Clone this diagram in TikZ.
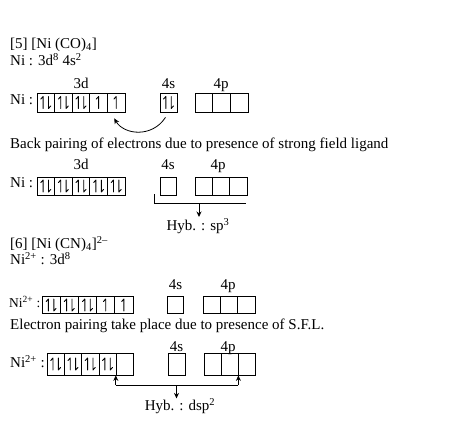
\documentclass[tikz,border=0pt]{standalone}
\usepackage{fontspec}
\setmainfont{Liberation Serif}
\usetikzlibrary{arrows.meta}
\begin{document}
\begin{tikzpicture}[x=1pt,y=-1pt,
  txt/.style={anchor=mid west,inner sep=0pt,font=\fontsize{15}{17}\selectfont},
  lbl/.style={anchor=mid,inner sep=0pt,font=\fontsize{15}{17}\selectfont},
  orb/.style 2 args={draw,line width=0.8pt,inner sep=0pt,minimum width=#1pt,minimum height=#2pt},
  elec/.style={line width=0.9pt,line cap=round,line join=round},
  upharp/.pic={\draw[elec] (0,6)--(0,-6)--(-2.3,-3.4);},
  dnharp/.pic={\draw[elec] (0,-6)--(0,6)--(2.3,3.4);},
  conn/.style={line width=0.8pt},
  tip/.style={line width=0.8pt,-{Stealth[length=5.5pt,width=5pt]}}
]
\newcommand\epair[1]{\pic[xshift=-2.7pt] at (#1.center) {upharp}; \pic[xshift=2.7pt] at (#1.center) {dnharp};}
\newcommand\esingle[1]{\pic at (#1.center) {upharp};}
\useasboundingbox (0,0) rectangle (474,431);

% ---------- [5] Ni(CO)4 ----------
\node[txt] (t5) at (10,46) {[5] [Ni (CO)\textsubscript{4}]};
\node[txt] (c5) at (10,63) {Ni : 3d\textsuperscript{8} 4s\textsuperscript{2}};

% row 1
\node[txt] (n1) at (10,102) {Ni :};
\node[lbl] (l1d) at (81,86) {3d};
\node[lbl] (l1s) at (168.5,86) {4s};
\node[lbl] (l1p) at (221,86) {4p};
\foreach \i in {1,...,5} \node[orb={17.6}{19}] (r1d\i) at ({37+17.6*(\i-0.5)},102.5) {};
\node[orb={17}{19}] (r1s) at (168.5,102.5) {};
\foreach \i in {1,2,3} \node[orb={17.7}{19}] (r1p\i) at ({195+17.7*(\i-0.5)},102.5) {};
\epair{r1d1}\epair{r1d2}\epair{r1d3}\esingle{r1d4}\esingle{r1d5}
\epair{r1s}
\draw[tip] ([shift={(-3,5)}]r1s.south) .. controls (152,138) and (124,135) .. ([shift={(-2,6)}]r1d5.south);

% back pairing
\node[txt] (bp) at (10,146) {Back pairing of electrons due to presence of strong field ligand};

% row 2
\node[txt] (n2) at (10,185) {Ni :};
\node[lbl] (l2d) at (81,167) {3d};
\node[lbl] (l2s) at (168,167) {4s};
\node[lbl] (l2p) at (218,167) {4p};
\foreach \i in {1,...,5} \node[orb={17.6}{18}] (r2d\i) at ({37+17.6*(\i-0.5)},186) {};
\node[orb={16}{18}] (r2s) at (168,186) {};
\foreach \i in {1,2,3} \node[orb={17.3}{18}] (r2p\i) at ({195+17.3*(\i-0.5)},186) {};
\foreach \i in {1,...,5} {\epair{r2d\i}}
\coordinate (b2t) at (154,194);
\coordinate (b2l) at (154,203);
\coordinate (b2r) at (246,203);
\coordinate (b2m) at (199,203);
\draw[conn] (b2t) -- (b2l) -- (b2r);
\node[lbl] (h2) at (198,228) {Hyb. : sp\textsuperscript{3}};
\draw[tip] (b2m) -- (199,217);

% ---------- [6] Ni(CN)4 2- ----------
\node[txt] (t6) at (10,246) {[6] [Ni (CN)\textsubscript{4}]\textsuperscript{2–}};
\node[txt] (c6) at (10,262) {Ni\textsuperscript{2+} : 3d\textsuperscript{8}};

% row 3
\node[txt,font=\fontsize{13.5}{16}\selectfont] (n3) at (9,305) {Ni\textsuperscript{2+} :};
\node[lbl] (l3s) at (175.5,287) {4s};
\node[lbl] (l3p) at (228,287) {4p};
\foreach \i in {1,...,5} \node[orb={18.2}{17}] (r3d\i) at ({42+18.2*(\i-0.5)},305) {};
\node[orb={16}{17}] (r3s) at (175.5,305) {};
\foreach \i in {1,2,3} \node[orb={17.3}{17}] (r3p\i) at ({203+17.3*(\i-0.5)},305) {};
\epair{r3d1}\epair{r3d2}\epair{r3d3}\esingle{r3d4}\esingle{r3d5}

% electron pairing
\node[txt] (ep) at (10,327) {Electron pairing take place due to presence of S.F.L.};

% row 4
\node[txt] (n4) at (10,365) {Ni\textsuperscript{2+} :};
\node[lbl] (l4s) at (176.5,349) {4s};
\node[lbl] (l4p) at (228,349) {4p};
\foreach \i in {1,...,5} \node[orb={17.3}{22}] (r4d\i) at ({47+17.3*(\i-0.5)},364) {};
\node[orb={17}{22}] (r4s) at (176.5,364) {};
\foreach \i in {1,2,3} \node[orb={17}{22}] (r4p\i) at ({204+17*(\i-0.5)},364) {};
\epair{r4d1}\epair{r4d2}\epair{r4d3}\epair{r4d4}
\coordinate (b4l) at ([yshift=-10pt]r4d5.south west);
\coordinate (b4r) at ([yshift=-10pt]r4p2.south east);
\coordinate (b4m) at (r4s.south |- b4l);
\draw[tip] (b4l) -- (r4d5.south west);
\draw[tip] (b4r) -- (r4p2.south east);
\draw[conn] (b4l) -- (b4r);
\node[lbl] (h4) at (180,408) {Hyb. : dsp\textsuperscript{2}};
\draw[tip] (b4m) -- ([yshift=-13pt]b4m);
\end{tikzpicture}
\end{document}
